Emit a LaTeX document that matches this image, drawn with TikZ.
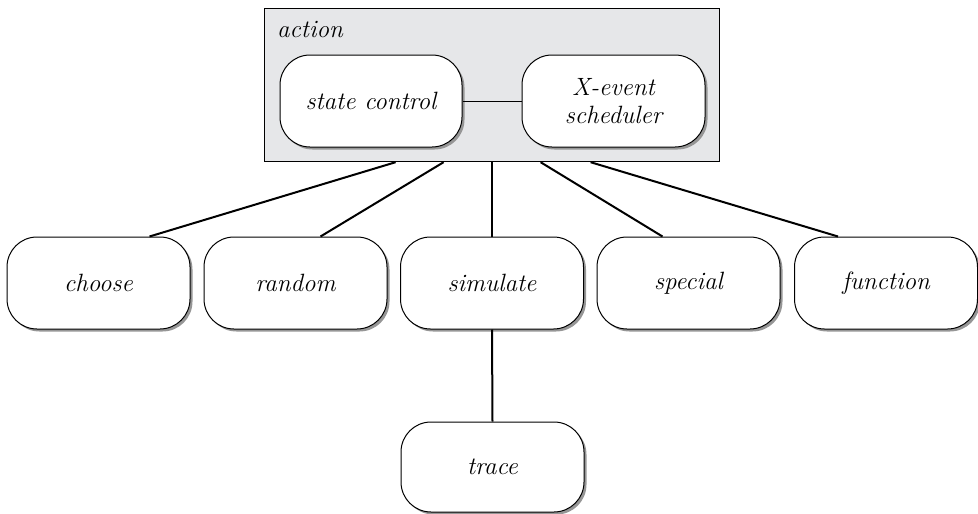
\documentclass[tikz,border=0pt]{standalone}
\usetikzlibrary{shadows}
\definecolor{panelgray}{RGB}{230,231,233}
\definecolor{shadowgray}{RGB}{150,150,150}
\begin{document}
\begin{tikzpicture}[x=1pt,y=-1pt,
  labeltext/.style={font=\fontsize{25}{30}\selectfont\itshape},
  term/.style={draw=black, line width=1pt, fill=white, rounded corners=30pt,
    minimum width=183pt, minimum height=92pt, inner sep=0pt, align=center,
    labeltext,
    drop shadow={shadow xshift=2.5pt, shadow yshift=-2.5pt, fill=shadowgray, opacity=1}},
  link/.style={line width=2pt},
  thinlink/.style={line width=1pt}]
\useasboundingbox (0,0) rectangle (978,514);

% the action module with its two parts
\node[draw=black, line width=1.2pt, fill=panelgray, minimum width=455pt,
  minimum height=153pt, anchor=north west, inner sep=0pt] (action) at (264,8) {};
\node[anchor=base west, inner sep=0pt, labeltext] (actionlabel) at (277,37) {action};
\node[term, minimum width=182pt] (state) at (371,101) {state control};
\node[term] (sched) at (613.5,101) {X-event\\[-2pt]scheduler};
\draw[thinlink] (state.east) -- (sched.west);

% sub-modules
\node[term] (choose)   at (98.5,283)  {choose};
\node[term] (random)   at (295.5,283) {random};
\node[term] (simulate) at (492,283)   {simulate};
\node[term] (special)  at (688.5,283) {special};
\node[term] (function) at (886,283)   {function};
\node[term, minimum height=90pt] (trace) at (492.5,467) {trace};

% connections
\draw[link] ([xshift=-96.5pt]action.south) -- ([xshift=51pt]choose.north);
\draw[link] ([xshift=-48.5pt]action.south) -- ([xshift=25pt]random.north);
\draw[link] (action.south -| simulate.north) -- (simulate.north);
\draw[link] ([xshift=48.5pt]action.south) -- ([xshift=-26pt]special.north);
\draw[link] ([xshift=98.5pt]action.south) -- ([xshift=-48pt]function.north);
\draw[link] (simulate.south) -- (trace.north);
\end{tikzpicture}
\end{document}
